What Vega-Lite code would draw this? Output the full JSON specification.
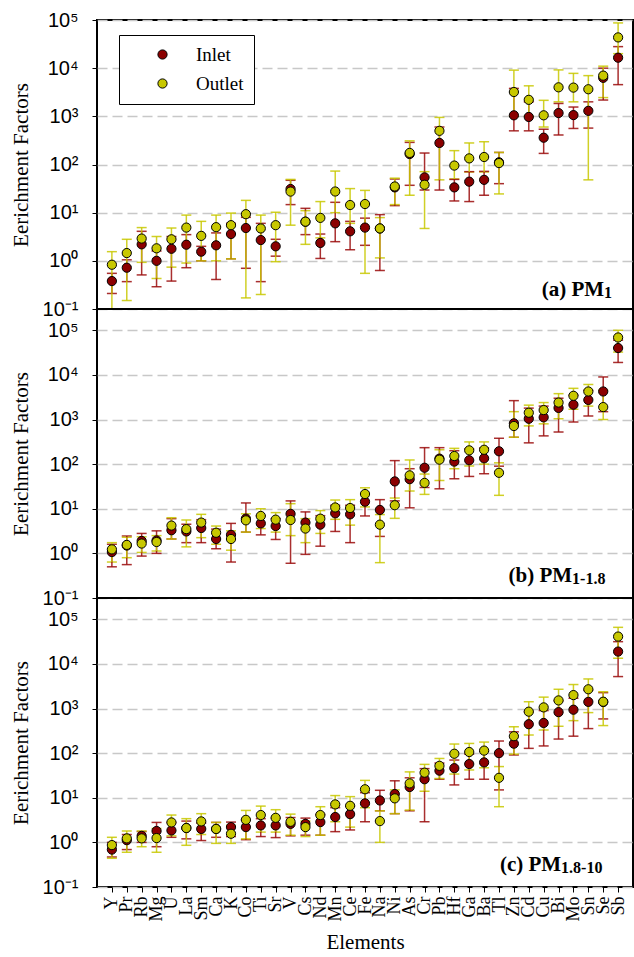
{
"$schema": "https://vega.github.io/schema/vega-lite/v6.json",
"padding": {"left": 9, "top": 9, "right": 1, "bottom": 5},
"background": "white",
"bounds": "flush",
"config": {
 "view": {"stroke": "black", "strokeWidth": 2},
 "axis": {"labelColor": "black", "titleColor": "black", "tickColor": "black", "domain": false},
 "text": {"font": "Liberation Serif"}
},
"datasets": {
"d": [
{"p":"a","e":"Y","s":"Inlet","v":0.38,"lo":0.21,"hi":0.55},
{"p":"a","e":"Pr","s":"Inlet","v":0.72,"lo":0.37,"hi":1.05},
{"p":"a","e":"Rb","s":"Inlet","v":2.2,"lo":0.51,"hi":4.1},
{"p":"a","e":"Mg","s":"Inlet","v":1.0,"lo":0.29,"hi":1.6},
{"p":"a","e":"U","s":"Inlet","v":1.78,"lo":0.38,"hi":3.2},
{"p":"a","e":"La","s":"Inlet","v":2.16,"lo":0.72,"hi":3.5},
{"p":"a","e":"Sm","s":"Inlet","v":1.55,"lo":1.0,"hi":2.0},
{"p":"a","e":"Ca","s":"Inlet","v":2.1,"lo":0.41,"hi":3.8},
{"p":"a","e":"K","s":"Inlet","v":3.6,"lo":1.1,"hi":6.0},
{"p":"a","e":"Co","s":"Inlet","v":4.8,"lo":0.7,"hi":8.0},
{"p":"a","e":"Ti","s":"Inlet","v":2.7,"lo":0.37,"hi":6.0},
{"p":"a","e":"Sr","s":"Inlet","v":2.0,"lo":1.25,"hi":2.8},
{"p":"a","e":"V","s":"Inlet","v":31,"lo":14.7,"hi":47},
{"p":"a","e":"Cs","s":"Inlet","v":6.5,"lo":3.5,"hi":12.3},
{"p":"a","e":"Nd","s":"Inlet","v":2.35,"lo":1.12,"hi":3.6},
{"p":"a","e":"Mn","s":"Inlet","v":6.0,"lo":2.5,"hi":16.4},
{"p":"a","e":"Ce","s":"Inlet","v":4.1,"lo":1.7,"hi":6.6},
{"p":"a","e":"Fe","s":"Inlet","v":4.9,"lo":2.1,"hi":7.7},
{"p":"a","e":"Na","s":"Inlet","v":4.7,"lo":0.63,"hi":9.1},
{"p":"a","e":"Ni","s":"Inlet","v":33.5,"lo":14,"hi":50},
{"p":"a","e":"As","s":"Inlet","v":165,"lo":37,"hi":288},
{"p":"a","e":"Cr","s":"Inlet","v":54,"lo":29.5,"hi":173},
{"p":"a","e":"Pb","s":"Inlet","v":280,"lo":29.5,"hi":600},
{"p":"a","e":"Hf","s":"Inlet","v":33.5,"lo":17.5,"hi":49},
{"p":"a","e":"Ga","s":"Inlet","v":44,"lo":17,"hi":71},
{"p":"a","e":"Ba","s":"Inlet","v":48,"lo":23,"hi":72},
{"p":"a","e":"Tl","s":"Inlet","v":111,"lo":40,"hi":178},
{"p":"a","e":"Zn","s":"Inlet","v":1050,"lo":500,"hi":3800},
{"p":"a","e":"Cd","s":"Inlet","v":970,"lo":500,"hi":2000},
{"p":"a","e":"Cu","s":"Inlet","v":360,"lo":170,"hi":540},
{"p":"a","e":"Bi","s":"Inlet","v":1170,"lo":410,"hi":1850},
{"p":"a","e":"Mo","s":"Inlet","v":1060,"lo":560,"hi":1560},
{"p":"a","e":"Sn","s":"Inlet","v":1300,"lo":570,"hi":2000},
{"p":"a","e":"Se","s":"Inlet","v":6300,"lo":2180,"hi":10000},
{"p":"a","e":"Sb","s":"Inlet","v":16500,"lo":4550,"hi":28000},
{"p":"a","e":"Y","s":"Outlet","v":0.83,"lo":0.1,"hi":1.55},
{"p":"a","e":"Pr","s":"Outlet","v":1.45,"lo":0.15,"hi":2.8},
{"p":"a","e":"Rb","s":"Outlet","v":2.9,"lo":0.93,"hi":4.9},
{"p":"a","e":"Mg","s":"Outlet","v":1.82,"lo":0.43,"hi":3.2},
{"p":"a","e":"U","s":"Outlet","v":2.8,"lo":0.74,"hi":4.8},
{"p":"a","e":"La","s":"Outlet","v":4.9,"lo":0.9,"hi":8.9},
{"p":"a","e":"Sm","s":"Outlet","v":3.3,"lo":1.0,"hi":6.6},
{"p":"a","e":"Ca","s":"Outlet","v":5.0,"lo":1.0,"hi":8.9},
{"p":"a","e":"K","s":"Outlet","v":5.5,"lo":1.1,"hi":9.8},
{"p":"a","e":"Co","s":"Outlet","v":9.3,"lo":0.17,"hi":18},
{"p":"a","e":"Ti","s":"Outlet","v":4.7,"lo":0.2,"hi":8.9},
{"p":"a","e":"Sr","s":"Outlet","v":5.5,"lo":0.96,"hi":10.2},
{"p":"a","e":"V","s":"Outlet","v":27.4,"lo":5.5,"hi":49},
{"p":"a","e":"Cs","s":"Outlet","v":6.5,"lo":2.2,"hi":11},
{"p":"a","e":"Nd","s":"Outlet","v":7.8,"lo":3,"hi":17},
{"p":"a","e":"Mn","s":"Outlet","v":27.5,"lo":10,"hi":73},
{"p":"a","e":"Ce","s":"Outlet","v":14.4,"lo":6,"hi":31.6},
{"p":"a","e":"Fe","s":"Outlet","v":15.1,"lo":0.55,"hi":29},
{"p":"a","e":"Na","s":"Outlet","v":4.7,"lo":1.15,"hi":7.9},
{"p":"a","e":"Ni","s":"Outlet","v":35,"lo":14.7,"hi":52},
{"p":"a","e":"As","s":"Outlet","v":174,"lo":23,"hi":310},
{"p":"a","e":"Cr","s":"Outlet","v":38,"lo":4.7,"hi":71},
{"p":"a","e":"Pb","s":"Outlet","v":500,"lo":48,"hi":950},
{"p":"a","e":"Hf","s":"Outlet","v":95,"lo":50,"hi":194},
{"p":"a","e":"Ga","s":"Outlet","v":134,"lo":70,"hi":280},
{"p":"a","e":"Ba","s":"Outlet","v":143,"lo":70,"hi":297},
{"p":"a","e":"Tl","s":"Outlet","v":107,"lo":24.5,"hi":178},
{"p":"a","e":"Zn","s":"Outlet","v":3200,"lo":1000,"hi":9100},
{"p":"a","e":"Cd","s":"Outlet","v":2200,"lo":1000,"hi":4300},
{"p":"a","e":"Cu","s":"Outlet","v":1050,"lo":600,"hi":2150},
{"p":"a","e":"Bi","s":"Outlet","v":4000,"lo":2000,"hi":9200},
{"p":"a","e":"Mo","s":"Outlet","v":3950,"lo":2000,"hi":7800},
{"p":"a","e":"Sn","s":"Outlet","v":3650,"lo":48,"hi":7000},
{"p":"a","e":"Se","s":"Outlet","v":7000,"lo":2450,"hi":11000},
{"p":"a","e":"Sb","s":"Outlet","v":43500,"lo":20000,"hi":87000},
{"p":"b","e":"Y","s":"Inlet","v":1.07,"lo":0.5,"hi":1.6},
{"p":"b","e":"Pr","s":"Inlet","v":1.5,"lo":0.56,"hi":2.45},
{"p":"b","e":"Rb","s":"Inlet","v":1.9,"lo":0.87,"hi":2.8},
{"p":"b","e":"Mg","s":"Inlet","v":1.95,"lo":1.0,"hi":3.2},
{"p":"b","e":"U","s":"Inlet","v":3.3,"lo":2.1,"hi":6.0},
{"p":"b","e":"La","s":"Inlet","v":3.1,"lo":1.74,"hi":4.5},
{"p":"b","e":"Sm","s":"Inlet","v":3.7,"lo":1.74,"hi":5.7},
{"p":"b","e":"Ca","s":"Inlet","v":2.1,"lo":1.27,"hi":3.5},
{"p":"b","e":"K","s":"Inlet","v":2.6,"lo":0.64,"hi":4.7},
{"p":"b","e":"Co","s":"Inlet","v":6.0,"lo":3.0,"hi":13.5},
{"p":"b","e":"Ti","s":"Inlet","v":4.7,"lo":2.6,"hi":7.0},
{"p":"b","e":"Sr","s":"Inlet","v":4.1,"lo":2.05,"hi":6.0},
{"p":"b","e":"V","s":"Inlet","v":7.7,"lo":0.6,"hi":15},
{"p":"b","e":"Cs","s":"Inlet","v":4.9,"lo":0.95,"hi":8.5},
{"p":"b","e":"Nd","s":"Inlet","v":4.4,"lo":1.45,"hi":7.0},
{"p":"b","e":"Mn","s":"Inlet","v":7.9,"lo":3.1,"hi":12},
{"p":"b","e":"Ce","s":"Inlet","v":7.5,"lo":1.74,"hi":12},
{"p":"b","e":"Fe","s":"Inlet","v":14.4,"lo":6.9,"hi":22},
{"p":"b","e":"Na","s":"Inlet","v":9.4,"lo":2.4,"hi":16},
{"p":"b","e":"Ni","s":"Inlet","v":41,"lo":15,"hi":120},
{"p":"b","e":"As","s":"Inlet","v":46,"lo":10.5,"hi":79},
{"p":"b","e":"Cr","s":"Inlet","v":83,"lo":30,"hi":234},
{"p":"b","e":"Pb","s":"Inlet","v":133,"lo":28,"hi":234},
{"p":"b","e":"Hf","s":"Inlet","v":114,"lo":47,"hi":200},
{"p":"b","e":"Ga","s":"Inlet","v":122,"lo":53,"hi":220},
{"p":"b","e":"Ba","s":"Inlet","v":135,"lo":61,"hi":230},
{"p":"b","e":"Tl","s":"Inlet","v":194,"lo":90,"hi":380},
{"p":"b","e":"Zn","s":"Inlet","v":820,"lo":400,"hi":2650},
{"p":"b","e":"Cd","s":"Inlet","v":1040,"lo":300,"hi":1800},
{"p":"b","e":"Cu","s":"Inlet","v":1120,"lo":430,"hi":2000},
{"p":"b","e":"Bi","s":"Inlet","v":1820,"lo":525,"hi":3000},
{"p":"b","e":"Mo","s":"Inlet","v":2150,"lo":880,"hi":3500},
{"p":"b","e":"Sn","s":"Inlet","v":2750,"lo":1200,"hi":4500},
{"p":"b","e":"Se","s":"Inlet","v":4250,"lo":1500,"hi":9000},
{"p":"b","e":"Sb","s":"Inlet","v":40000,"lo":19000,"hi":60000},
{"p":"b","e":"Y","s":"Outlet","v":1.23,"lo":0.64,"hi":1.74},
{"p":"b","e":"Pr","s":"Outlet","v":1.55,"lo":0.8,"hi":2.3},
{"p":"b","e":"Rb","s":"Outlet","v":1.66,"lo":1.05,"hi":2.35},
{"p":"b","e":"Mg","s":"Outlet","v":1.8,"lo":1.13,"hi":2.5},
{"p":"b","e":"U","s":"Outlet","v":4.2,"lo":2.1,"hi":6.3},
{"p":"b","e":"La","s":"Outlet","v":3.5,"lo":1.4,"hi":5.6},
{"p":"b","e":"Sm","s":"Outlet","v":4.9,"lo":2.25,"hi":7.5},
{"p":"b","e":"Ca","s":"Outlet","v":2.9,"lo":1.6,"hi":4.1},
{"p":"b","e":"K","s":"Outlet","v":2.1,"lo":1.18,"hi":3.2},
{"p":"b","e":"Co","s":"Outlet","v":5.5,"lo":3.0,"hi":7.7},
{"p":"b","e":"Ti","s":"Outlet","v":6.9,"lo":3.6,"hi":10},
{"p":"b","e":"Sr","s":"Outlet","v":5.7,"lo":3.0,"hi":8.2},
{"p":"b","e":"V","s":"Outlet","v":5.6,"lo":2.5,"hi":13},
{"p":"b","e":"Cs","s":"Outlet","v":3.6,"lo":1.74,"hi":6.0},
{"p":"b","e":"Nd","s":"Outlet","v":6.0,"lo":2.8,"hi":9.1},
{"p":"b","e":"Mn","s":"Outlet","v":10.7,"lo":5.8,"hi":15.7},
{"p":"b","e":"Ce","s":"Outlet","v":10.4,"lo":4.3,"hi":16},
{"p":"b","e":"Fe","s":"Outlet","v":21.4,"lo":11,"hi":29.5},
{"p":"b","e":"Na","s":"Outlet","v":4.4,"lo":0.62,"hi":7.4},
{"p":"b","e":"Ni","s":"Outlet","v":12,"lo":6.1,"hi":17.4},
{"p":"b","e":"As","s":"Outlet","v":56,"lo":25,"hi":124},
{"p":"b","e":"Cr","s":"Outlet","v":38,"lo":21,"hi":60},
{"p":"b","e":"Pb","s":"Outlet","v":126,"lo":43,"hi":210},
{"p":"b","e":"Hf","s":"Outlet","v":152,"lo":79,"hi":226},
{"p":"b","e":"Ga","s":"Outlet","v":204,"lo":91,"hi":315},
{"p":"b","e":"Ba","s":"Outlet","v":210,"lo":100,"hi":315},
{"p":"b","e":"Tl","s":"Outlet","v":64,"lo":20,"hi":107},
{"p":"b","e":"Zn","s":"Outlet","v":715,"lo":400,"hi":1500},
{"p":"b","e":"Cd","s":"Outlet","v":1420,"lo":720,"hi":2100},
{"p":"b","e":"Cu","s":"Outlet","v":1630,"lo":800,"hi":2400},
{"p":"b","e":"Bi","s":"Outlet","v":2400,"lo":1040,"hi":3800},
{"p":"b","e":"Mo","s":"Outlet","v":3400,"lo":1700,"hi":5000},
{"p":"b","e":"Sn","s":"Outlet","v":4250,"lo":2000,"hi":6100},
{"p":"b","e":"Se","s":"Outlet","v":1900,"lo":1000,"hi":4500},
{"p":"b","e":"Sb","s":"Outlet","v":69000,"lo":32500,"hi":100000},
{"p":"c","e":"Y","s":"Inlet","v":0.69,"lo":0.47,"hi":1.0},
{"p":"c","e":"Pr","s":"Inlet","v":1.12,"lo":0.69,"hi":1.5},
{"p":"c","e":"Rb","s":"Inlet","v":1.4,"lo":1.0,"hi":1.75},
{"p":"c","e":"Mg","s":"Inlet","v":1.8,"lo":0.8,"hi":2.8},
{"p":"c","e":"U","s":"Inlet","v":1.85,"lo":1.3,"hi":2.8},
{"p":"c","e":"La","s":"Inlet","v":2.1,"lo":1.2,"hi":3.0},
{"p":"c","e":"Sm","s":"Inlet","v":2.0,"lo":1.1,"hi":2.7},
{"p":"c","e":"Ca","s":"Inlet","v":2.0,"lo":1.3,"hi":2.8},
{"p":"c","e":"K","s":"Inlet","v":2.2,"lo":1.35,"hi":2.85},
{"p":"c","e":"Co","s":"Inlet","v":2.2,"lo":1.15,"hi":3.2},
{"p":"c","e":"Ti","s":"Inlet","v":2.4,"lo":1.35,"hi":3.4},
{"p":"c","e":"Sr","s":"Inlet","v":2.4,"lo":1.28,"hi":3.5},
{"p":"c","e":"V","s":"Inlet","v":2.6,"lo":1.4,"hi":3.6},
{"p":"c","e":"Cs","s":"Inlet","v":2.6,"lo":1.45,"hi":3.5},
{"p":"c","e":"Nd","s":"Inlet","v":2.85,"lo":1.45,"hi":4.2},
{"p":"c","e":"Mn","s":"Inlet","v":3.7,"lo":1.74,"hi":6.0},
{"p":"c","e":"Ce","s":"Inlet","v":4.3,"lo":1.9,"hi":6.5},
{"p":"c","e":"Fe","s":"Inlet","v":7.5,"lo":2.9,"hi":13},
{"p":"c","e":"Na","s":"Inlet","v":8.7,"lo":5.1,"hi":14.7},
{"p":"c","e":"Ni","s":"Inlet","v":12.1,"lo":4.4,"hi":24},
{"p":"c","e":"As","s":"Inlet","v":17.4,"lo":5.1,"hi":28},
{"p":"c","e":"Cr","s":"Inlet","v":26,"lo":2.9,"hi":45},
{"p":"c","e":"Pb","s":"Inlet","v":40.5,"lo":26,"hi":60},
{"p":"c","e":"Hf","s":"Inlet","v":46,"lo":19.4,"hi":70},
{"p":"c","e":"Ga","s":"Inlet","v":57,"lo":26,"hi":95},
{"p":"c","e":"Ba","s":"Inlet","v":62,"lo":26,"hi":110},
{"p":"c","e":"Tl","s":"Inlet","v":100,"lo":15,"hi":187},
{"p":"c","e":"Zn","s":"Inlet","v":163,"lo":91,"hi":300},
{"p":"c","e":"Cd","s":"Inlet","v":445,"lo":128,"hi":850},
{"p":"c","e":"Cu","s":"Inlet","v":475,"lo":145,"hi":900},
{"p":"c","e":"Bi","s":"Inlet","v":830,"lo":207,"hi":1500},
{"p":"c","e":"Mo","s":"Inlet","v":940,"lo":240,"hi":1700},
{"p":"c","e":"Sn","s":"Inlet","v":1410,"lo":355,"hi":2600},
{"p":"c","e":"Se","s":"Inlet","v":1400,"lo":585,"hi":2270},
{"p":"c","e":"Sb","s":"Inlet","v":18900,"lo":5200,"hi":31500},
{"p":"c","e":"Y","s":"Outlet","v":0.87,"lo":0.44,"hi":1.3},
{"p":"c","e":"Pr","s":"Outlet","v":1.23,"lo":0.6,"hi":1.8},
{"p":"c","e":"Rb","s":"Outlet","v":1.23,"lo":0.8,"hi":1.8},
{"p":"c","e":"Mg","s":"Outlet","v":1.25,"lo":0.6,"hi":2.05},
{"p":"c","e":"U","s":"Outlet","v":2.8,"lo":1.4,"hi":4.1},
{"p":"c","e":"La","s":"Outlet","v":2.1,"lo":0.86,"hi":3.4},
{"p":"c","e":"Sm","s":"Outlet","v":2.95,"lo":1.5,"hi":4.4},
{"p":"c","e":"Ca","s":"Outlet","v":2.0,"lo":0.95,"hi":2.8},
{"p":"c","e":"K","s":"Outlet","v":1.56,"lo":0.95,"hi":2.4},
{"p":"c","e":"Co","s":"Outlet","v":3.2,"lo":1.2,"hi":5.2},
{"p":"c","e":"Ti","s":"Outlet","v":4.1,"lo":1.7,"hi":6.5},
{"p":"c","e":"Sr","s":"Outlet","v":3.55,"lo":1.7,"hi":5.4},
{"p":"c","e":"V","s":"Outlet","v":2.9,"lo":1.45,"hi":4.3},
{"p":"c","e":"Cs","s":"Outlet","v":2.2,"lo":1.35,"hi":3.0},
{"p":"c","e":"Nd","s":"Outlet","v":4.1,"lo":1.45,"hi":6.3},
{"p":"c","e":"Mn","s":"Outlet","v":7.1,"lo":2.9,"hi":11.2},
{"p":"c","e":"Ce","s":"Outlet","v":6.6,"lo":2.2,"hi":10.6},
{"p":"c","e":"Fe","s":"Outlet","v":15.5,"lo":6.0,"hi":24.5},
{"p":"c","e":"Na","s":"Outlet","v":3.0,"lo":1.0,"hi":5.1},
{"p":"c","e":"Ni","s":"Outlet","v":9.7,"lo":4.4,"hi":15},
{"p":"c","e":"As","s":"Outlet","v":21,"lo":5.3,"hi":38},
{"p":"c","e":"Cr","s":"Outlet","v":36.5,"lo":14,"hi":56},
{"p":"c","e":"Pb","s":"Outlet","v":52,"lo":27,"hi":76},
{"p":"c","e":"Hf","s":"Outlet","v":97,"lo":34,"hi":160},
{"p":"c","e":"Ga","s":"Outlet","v":106,"lo":42,"hi":165},
{"p":"c","e":"Ba","s":"Outlet","v":114,"lo":47,"hi":177},
{"p":"c","e":"Tl","s":"Outlet","v":28,"lo":6.3,"hi":50},
{"p":"c","e":"Zn","s":"Outlet","v":240,"lo":95,"hi":390},
{"p":"c","e":"Cd","s":"Outlet","v":850,"lo":255,"hi":1420},
{"p":"c","e":"Cu","s":"Outlet","v":1060,"lo":330,"hi":1800},
{"p":"c","e":"Bi","s":"Outlet","v":1520,"lo":400,"hi":2700},
{"p":"c","e":"Mo","s":"Outlet","v":2000,"lo":535,"hi":3450},
{"p":"c","e":"Sn","s":"Outlet","v":2700,"lo":810,"hi":4600},
{"p":"c","e":"Se","s":"Outlet","v":1420,"lo":415,"hi":2380},
{"p":"c","e":"Sb","s":"Outlet","v":41000,"lo":13400,"hi":66000}
]
},
"spacing": 0,
"vconcat": [
{
 "width": 536, "height": 289,
 "data": {"name": "d"},
 "encoding": {"x": {"field": "e", "type": "nominal", "scale": {"type": "point", "padding": 1, "domain": ["Y","Pr","Rb","Mg","U","La","Sm","Ca","K","Co","Ti","Sr","V","Cs","Nd","Mn","Ce","Fe","Na","Ni","As","Cr","Pb","Hf","Ga","Ba","Tl","Zn","Cd","Cu","Bi","Mo","Sn","Se","Sb"]}, "axis": null}},
 "layer": [
  {"transform": [{"filter": "datum.p === 'a'"}],
   "mark": {"type": "errorbar", "ticks": true, "size": 10, "thickness": 1.5, "opacity": 0.85},
   "encoding": {
    "y": {"field": "lo", "type": "quantitative", "scale": {"type": "log", "domain": [0.1, 100000], "nice": false},
     "axis": {"title": "Eerichment Factors", "titleFont": "Liberation Serif", "titleFontSize": 21, "titleFontWeight": "normal", "titlePadding": 11,
      "values": [0.1, 1, 10, 100, 1000, 10000, 100000],
      "labelExpr": "{'0.1':'10⁻¹','1':'10⁰','10':'10¹','100':'10²','1000':'10³','10000':'10⁴','100000':'10⁵'}[datum.value]",
      "labelFont": "Liberation Sans", "labelFontSize": 20, "labelPadding": 14, "tickSize": 5,
      "grid": true, "gridColor": "#c8c8c8", "gridDash": [10, 5], "gridWidth": 1.3}},
    "y2": {"field": "hi"},
    "color": {"field": "s", "type": "nominal", "scale": {"range": ["#9a0a0a", "#c8c800"]}, "legend": null}
   }},
  {"transform": [{"filter": "datum.p === 'a'"}],
   "mark": {"type": "point", "filled": true, "size": 85, "stroke": "black", "strokeWidth": 1, "opacity": 1},
   "encoding": {
    "y": {"field": "v", "type": "quantitative"},
    "fill": {"field": "s", "type": "nominal", "scale": {"domain": ["Inlet", "Outlet"], "range": ["#8b0000", "#c8c800"]}, "legend": {"orient": "none", "legendX": 22, "legendY": 15, "title": null, "strokeColor": "black", "fillColor": "white", "padding": 10, "symbolOffset": 24, "labelOffset": 24, "rowPadding": 9, "labelFont": "Liberation Serif", "labelFontSize": 19, "labelColor": "black", "symbolSize": 85, "symbolType": "circle", "symbolStrokeColor": "black", "symbolStrokeWidth": 1, "symbolOpacity": 1}}
   }},
  {"data": {"values": [{}]},
   "mark": {"type": "text", "text": "(a) PM", "align": "right", "baseline": "alphabetic", "fontSize": 21, "fontWeight": "bold", "dx": -14},
   "encoding": {"x": {"datum": "Sb"}, "y": {"datum": 0.186}}},
  {"data": {"values": [{}]},
   "mark": {"type": "text", "text": "1", "align": "left", "baseline": "alphabetic", "fontSize": 16, "fontWeight": "bold", "dx": -14, "dy": 2},
   "encoding": {"x": {"datum": "Sb"}, "y": {"datum": 0.186}}}
 ]
},
{
 "width": 536, "height": 289,
 "data": {"name": "d"},
 "encoding": {"x": {"field": "e", "type": "nominal", "scale": {"type": "point", "padding": 1, "domain": ["Y","Pr","Rb","Mg","U","La","Sm","Ca","K","Co","Ti","Sr","V","Cs","Nd","Mn","Ce","Fe","Na","Ni","As","Cr","Pb","Hf","Ga","Ba","Tl","Zn","Cd","Cu","Bi","Mo","Sn","Se","Sb"]}, "axis": null}},
 "layer": [
  {"transform": [{"filter": "datum.p === 'b'"}],
   "mark": {"type": "errorbar", "ticks": true, "size": 10, "thickness": 1.5, "opacity": 0.85},
   "encoding": {
    "y": {"field": "lo", "type": "quantitative", "scale": {"type": "log", "domain": [0.1, 300000], "nice": false},
     "axis": {"title": "Eerichment Factors", "titleFont": "Liberation Serif", "titleFontSize": 21, "titleFontWeight": "normal", "titlePadding": 11,
      "values": [0.1, 1, 10, 100, 1000, 10000, 100000],
      "labelExpr": "{'0.1':'10⁻¹','1':'10⁰','10':'10¹','100':'10²','1000':'10³','10000':'10⁴','100000':'10⁵'}[datum.value]",
      "labelFont": "Liberation Sans", "labelFontSize": 20, "labelPadding": 14, "tickSize": 5,
      "grid": true, "gridColor": "#c8c8c8", "gridDash": [10, 5], "gridWidth": 1.3}},
    "y2": {"field": "hi"},
    "color": {"field": "s", "type": "nominal", "legend": null}
   }},
  {"transform": [{"filter": "datum.p === 'b'"}],
   "mark": {"type": "point", "filled": true, "size": 85, "stroke": "black", "strokeWidth": 1, "opacity": 1},
   "encoding": {
    "y": {"field": "v", "type": "quantitative"},
    "fill": {"field": "s", "type": "nominal"}
   }},
  {"data": {"values": [{}]},
   "mark": {"type": "text", "text": "(b) PM", "align": "right", "baseline": "alphabetic", "fontSize": 21, "fontWeight": "bold", "dx": -46},
   "encoding": {"x": {"datum": "Sb"}, "y": {"datum": 0.227}}},
  {"data": {"values": [{}]},
   "mark": {"type": "text", "text": "1-1.8", "align": "left", "baseline": "alphabetic", "fontSize": 16, "fontWeight": "bold", "dx": -46, "dy": 2},
   "encoding": {"x": {"datum": "Sb"}, "y": {"datum": 0.227}}}
 ]
},
{
 "width": 536, "height": 289,
 "data": {"name": "d"},
 "encoding": {"x": {"field": "e", "type": "nominal", "scale": {"type": "point", "padding": 1, "domain": ["Y","Pr","Rb","Mg","U","La","Sm","Ca","K","Co","Ti","Sr","V","Cs","Nd","Mn","Ce","Fe","Na","Ni","As","Cr","Pb","Hf","Ga","Ba","Tl","Zn","Cd","Cu","Bi","Mo","Sn","Se","Sb"]},
   "axis": {"title": "Elements", "titleFont": "Liberation Serif", "titleFontSize": 21, "titleFontWeight": "normal", "titlePadding": 10, "labelAngle": -90, "labelFont": "Liberation Serif", "labelFontSize": 18, "labelPadding": 4, "tickSize": 5, "grid": false}}},
 "layer": [
  {"transform": [{"filter": "datum.p === 'c'"}],
   "mark": {"type": "errorbar", "ticks": true, "size": 10, "thickness": 1.5, "opacity": 0.85},
   "encoding": {
    "y": {"field": "lo", "type": "quantitative", "scale": {"type": "log", "domain": [0.1, 300000], "nice": false},
     "axis": {"title": "Eerichment Factors", "titleFont": "Liberation Serif", "titleFontSize": 21, "titleFontWeight": "normal", "titlePadding": 11,
      "values": [0.1, 1, 10, 100, 1000, 10000, 100000],
      "labelExpr": "{'0.1':'10⁻¹','1':'10⁰','10':'10¹','100':'10²','1000':'10³','10000':'10⁴','100000':'10⁵'}[datum.value]",
      "labelFont": "Liberation Sans", "labelFontSize": 20, "labelPadding": 14, "tickSize": 5,
      "grid": true, "gridColor": "#c8c8c8", "gridDash": [10, 5], "gridWidth": 1.3}},
    "y2": {"field": "hi"},
    "color": {"field": "s", "type": "nominal", "legend": null}
   }},
  {"transform": [{"filter": "datum.p === 'c'"}],
   "mark": {"type": "point", "filled": true, "size": 85, "stroke": "black", "strokeWidth": 1, "opacity": 1},
   "encoding": {
    "y": {"field": "v", "type": "quantitative"},
    "fill": {"field": "s", "type": "nominal"}
   }},
  {"data": {"values": [{}]},
   "mark": {"type": "text", "text": "(c) PM", "align": "right", "baseline": "alphabetic", "fontSize": 21, "fontWeight": "bold", "dx": -57},
   "encoding": {"x": {"datum": "Sb"}, "y": {"datum": 0.227}}},
  {"data": {"values": [{}]},
   "mark": {"type": "text", "text": "1.8-10", "align": "left", "baseline": "alphabetic", "fontSize": 16, "fontWeight": "bold", "dx": -57, "dy": 2},
   "encoding": {"x": {"datum": "Sb"}, "y": {"datum": 0.227}}}
 ]
}
]
}
